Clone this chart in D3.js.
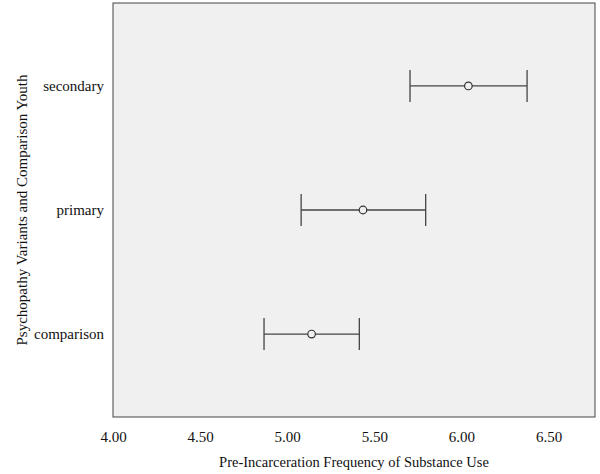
<!DOCTYPE html>
<html lang="en">
<head>
  <meta charset="UTF-8" />
  <title>Substance Use by Group</title>
  <script src="https://cdn.jsdelivr.net/npm/d3@7"></script>
  <style>
    body { margin: 0; background: #fff; }
    text { font-family: "Liberation Serif", "Times New Roman", serif; fill: #111; }
  </style>
</head>
<body>
  <script>
    var groups = ["secondary", "primary", "comparison"];
    var means = [6.04, 5.435, 5.14];
    var lower = [5.705, 5.08, 4.867];
    var upper = [6.377, 5.795, 5.414];
    var xTicks = [4.0, 4.5, 5.0, 5.5, 6.0, 6.5];

    // note: "top" is reserved on window, so use plot* names
    var w = 600,
      h = 474,
      plotLeft = 113,
      plotRight = 595,
      plotTop = 3,
      plotBottom = 417;

    var svg = d3.select("body").append("svg")
      .attr("width", w)
      .attr("height", h);

    var xScale = d3.scaleLinear()
      .domain([4.0, 4.0 + (plotRight - plotLeft) / 174.2])
      .range([plotLeft, plotRight]);

    var yScale = d3.scalePoint()
      .domain(groups)
      .range([plotTop, plotBottom])
      .padding(0.669);

    svg.append("rect")
      .attr("x", plotLeft)
      .attr("y", plotTop)
      .attr("width", plotRight - plotLeft)
      .attr("height", plotBottom - plotTop)
      .attr("fill", "#f0f0f0")
      .attr("stroke", "#444")
      .attr("stroke-width", 1);

    var data = groups.map(function(g, i) {
      return { g: g, m: means[i], lo: lower[i], hi: upper[i] };
    });

    var bars = svg.selectAll("g.bar")
      .data(data)
      .enter()
      .append("g")
      .attr("class", "bar");

    bars.append("line")
      .attr("x1", function(d) { return xScale(d.lo) })
      .attr("x2", function(d) { return xScale(d.hi) })
      .attr("y1", function(d) { return yScale(d.g) })
      .attr("y2", function(d) { return yScale(d.g) })
      .attr("stroke", "#444")
      .attr("stroke-width", 1.3);

    ["lo", "hi"].forEach(function(k) {
      bars.append("line")
        .attr("x1", function(d) { return xScale(d[k]) })
        .attr("x2", function(d) { return xScale(d[k]) })
        .attr("y1", function(d) { return yScale(d.g) - 16 })
        .attr("y2", function(d) { return yScale(d.g) + 16 })
        .attr("stroke", "#444")
        .attr("stroke-width", 1.3);
    });

    bars.append("circle")
      .attr("cx", function(d) { return xScale(d.m) })
      .attr("cy", function(d) { return yScale(d.g) })
      .attr("r", 3.8)
      .attr("fill", "#f0f0f0")
      .attr("stroke", "#333")
      .attr("stroke-width", 1.2);

    var xAxis = d3.axisBottom(xScale)
      .tickValues(xTicks)
      .tickFormat(d3.format(".2f"))
      .tickSize(0)
      .tickPadding(25);

    var gx = svg.append("g")
      .attr("transform", "translate(0," + plotBottom + ")")
      .call(xAxis);
    gx.select(".domain").remove();
    gx.selectAll("text").style("font-size", "15px").attr("dy", "0");

    var yAxis = d3.axisLeft(yScale)
      .tickSize(0)
      .tickPadding(9);

    var gy = svg.append("g")
      .attr("transform", "translate(" + plotLeft + ",0)")
      .call(yAxis);
    gy.select(".domain").remove();
    gy.selectAll("text").style("font-size", "15px");

    svg.append("text")
      .attr("x", (plotLeft + plotRight) / 2)
      .attr("y", 467)
      .attr("text-anchor", "middle")
      .style("font-size", "14.5px")
      .text("Pre-Incarceration Frequency of Substance Use");

    svg.append("text")
      .attr("transform", "translate(27," + ((plotTop + plotBottom) / 2) + ") rotate(-90)")
      .attr("text-anchor", "middle")
      .style("font-size", "15px")
      .text("Psychopathy Variants and Comparison Youth");
  </script>
</body>
</html>
